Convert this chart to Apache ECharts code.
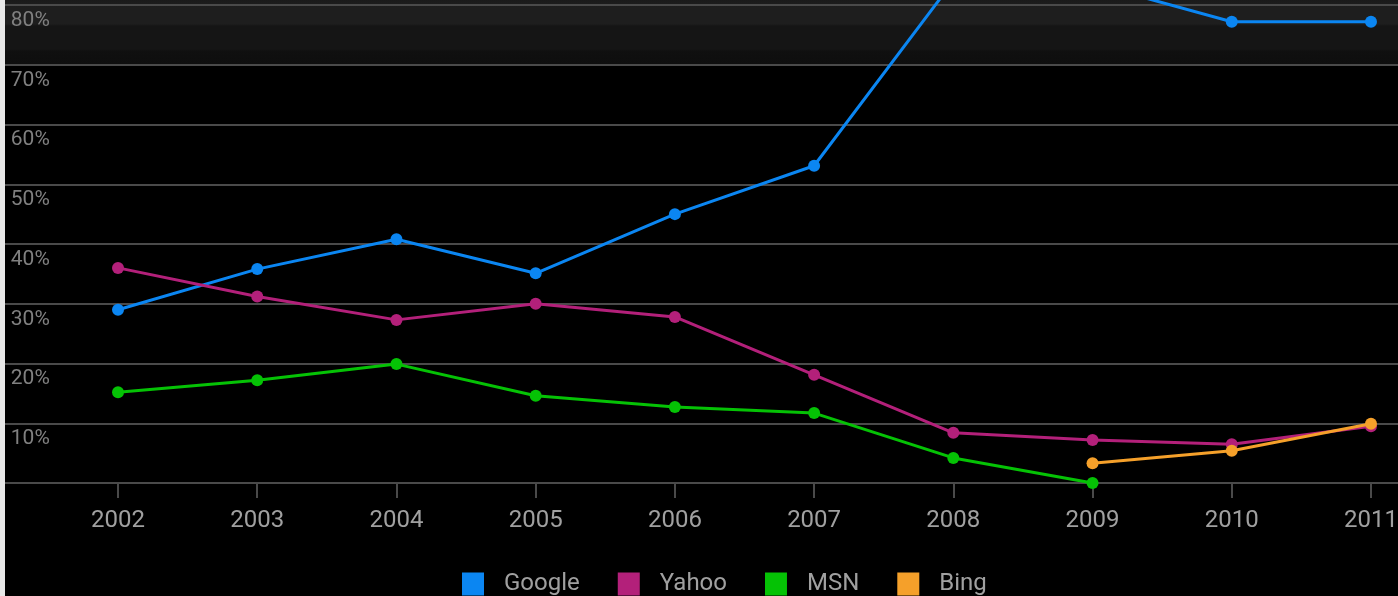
<!DOCTYPE html>
<html>
<head>
<meta charset="utf-8">
<script src="https://cdn.jsdelivr.net/npm/echarts@6/dist/echarts.min.js"></script>
<style>
  html, body { margin: 0; padding: 0; background: #e8e8e8; width: 1398px; height: 596px; overflow: hidden; }
  #chart {
    position: absolute; left: 5px; top: 0; width: 1393px; height: 596px;
    background: linear-gradient(to bottom, #1a1a1a 0px, #1e1e1e 8px, #1e1e1e 24px, #151515 26px, #151515 49px, #101010 51px, #0e0e0e 64px, #000 66px, #000 100%);
  }
</style>
</head>
<body>
<div id="chart"></div>
<script>
const years = [2002, 2003, 2004, 2005, 2006, 2007, 2008, 2009, 2010, 2011];
const google = [29.0, 35.8, 40.8, 35.1, 45.0, 53.1, 84.0, 83.6, 77.2, 77.2];
const yahoo  = [36.0, 31.2, 27.3, 30.0, 27.8, 18.1, 8.4, 7.2, 6.5, 9.5];
const msn    = [15.2, 17.2, 19.9, 14.6, 12.7, 11.7, 4.2, 0.0, null, null];
const bing   = [null, null, null, null, null, null, null, 3.3, 5.4, 9.9];
const seriesNames = ['Google', 'Yahoo', 'MSN', 'Bing'];
const colors = ['#0b86f2', '#b3207a', '#05c205', '#f5a02a'];

function pairs(vals) {
  const out = [];
  years.forEach((y, i) => { if (vals[i] !== null) out.push([y, vals[i]]); });
  return out;
}

const chart = echarts.init(document.getElementById('chart'), null, { renderer: 'canvas' });
const allVals = [google, yahoo, msn, bing];
chart.setOption({
  animation: false,
  backgroundColor: 'transparent',
  color: colors,
  grid: { left: -26.2, width: 1531.4, top: -54.75, bottom: 113, containLabel: false, outerBoundsMode: 'none' },
  legend: {
    bottom: -5,
    left: 452,
    icon: 'rect',
    itemWidth: 22,
    itemHeight: 23,
    itemGap: 38,
    textStyle: { color: '#a0a0a0', fontSize: 24, fontFamily: 'Roboto', padding: [0, 0, 0, 15] },
    data: seriesNames
  },
  xAxis: {
    type: 'value',
    min: 2001,
    max: 2012,
    interval: 1,
    axisLine: { show: true, onZero: false, lineStyle: { color: '#4a4a4a', width: 2 } },
    axisTick: { show: true, length: 15, lineStyle: { color: '#4a4a4a', width: 2 } },
    splitLine: { show: false },
    axisLabel: {
      color: '#a0a0a0', fontSize: 24, fontFamily: 'Roboto', margin: 26,
      formatter: v => String(Math.round(v))
    }
  },
  yAxis: {
    type: 'value',
    min: 0,
    max: 90,
    interval: 10,
    axisLine: { show: false },
    axisTick: { show: false },
    splitLine: { show: true, lineStyle: { color: '#4a4a4a', width: 2 } },
    axisLabel: {
      inside: true,
      margin: 32,
      color: '#808080',
      fontSize: 21,
      fontFamily: 'Roboto',
      verticalAlign: 'top',
      padding: [5, 0, 0, 0],
      formatter: v => (v > 0 && v <= 80) ? v + '%' : ''
    }
  },
  series: seriesNames.map((name, i) => ({
    name: name,
    type: 'line',
    data: pairs(allVals[i]),
    symbol: 'circle',
    symbolSize: 12,
    showSymbol: true,
    lineStyle: { width: 3, color: colors[i] },
    itemStyle: { color: colors[i] },
    z: 2 + i
  }))
});
</script>
</body>
</html>
